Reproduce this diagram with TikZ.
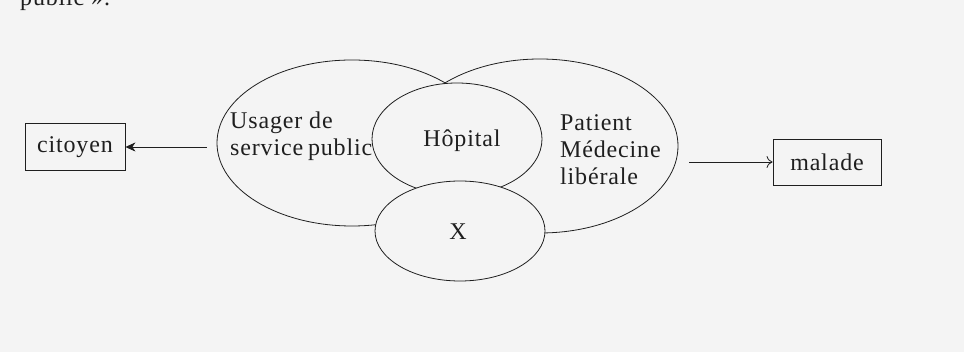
\documentclass[tikz,border=0pt]{standalone}
\usepackage{fontspec}
\setmainfont[LetterSpace=3.5]{Liberation Serif}
\usetikzlibrary{shapes.geometric,arrows.meta}
\definecolor{paper}{gray}{0.955}
\definecolor{ink}{gray}{0.12}
\begin{document}
\begin{tikzpicture}[x=1pt,y=-1pt,
  ring/.style={ellipse,draw=ink,line width=0.8pt,inner sep=0pt,minimum width=#1},
  frontring/.style={ellipse,draw=ink,fill=paper,line width=0.8pt,inner sep=0pt},
  label/.style={text=ink,font=\fontsize{24}{27}\selectfont,inner sep=0pt},
  boxnode/.style={draw=ink,line width=0.8pt,text=ink,font=\fontsize{24}{27}\selectfont,inner sep=0pt}]
\fill[paper] (0,0) rectangle (964,352);
\useasboundingbox (0,0) rectangle (964,352);
% cut-off line of the page above
\node[label,anchor=base west] (prev) at (20,6) {public ».};
% large ellipses
\node[ring=270pt,minimum height=166pt] (L) at (352,143) {};
\node[ring=276pt,minimum height=174pt] (R) at (540,146) {};
% front ellipses
\node[frontring,minimum width=170pt,minimum height=112pt] (H) at (457,139) {};
\node[frontring,minimum width=170pt,minimum height=100pt] (X) at (460,231) {};
% texts
\node[label,align=left,anchor=west] (usager) at (230,136) {Usager de\\service\hspace{-2pt} public};
\node[label,align=left,anchor=west] (patient) at (560,150) {Patient\\Médecine\\libérale};
\node[label] (hop) at (462,141) {Hôpital};
\node[label] (xt) at (458,232) {X};
% boxes
\node[boxnode,minimum width=100pt,minimum height=47pt] (cit) at (75,147) {citoyen};
\node[boxnode,minimum width=108pt,minimum height=46pt] (mal) at (827,162) {malade};
% arrows
\draw[ink,line width=0.8pt,-{Stealth[length=10pt,width=9pt,inset=3pt]},shorten <=10pt]
  (cit.east -| L.west) -- (cit.east);
\draw[ink,line width=0.8pt,-{To[length=6pt,width=12pt]},shorten <=11pt]
  (mal.west -| R.east) -- (mal.west);
\end{tikzpicture}
\end{document}
